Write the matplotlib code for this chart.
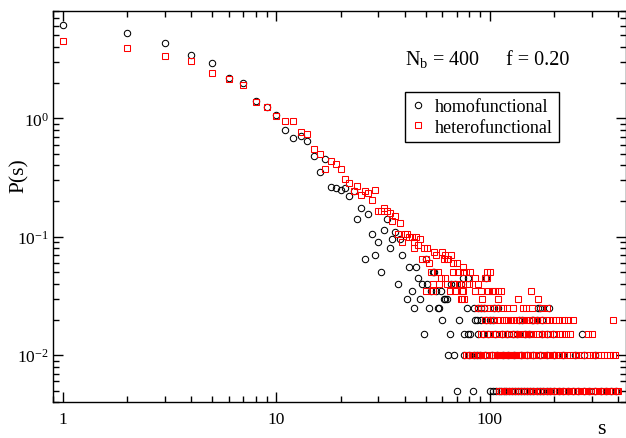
import matplotlib
matplotlib.use("Agg")
import matplotlib.pyplot as plt
from matplotlib.ticker import LogLocator, FuncFormatter, NullFormatter

plt.rcParams['font.family'] = ['Liberation Serif', 'DejaVu Serif']
plt.rcParams['mathtext.fontset'] = 'custom'
plt.rcParams['mathtext.rm'] = 'Liberation Serif'
plt.rcParams['mathtext.it'] = 'Liberation Serif:italic'
plt.rcParams['axes.unicode_minus'] = False

# small clusters: one value per size s
homo_s_head = list(range(1, 40))
homo_p_head = [6.1, 5.2, 4.3, 3.4, 2.9, 2.2, 2.0, 1.39, 1.25, 1.06,
               0.79, 0.675, 0.71, 0.645, 0.48, 0.35, 0.455, 0.265, 0.26, 0.25,
               0.26, 0.22, 0.245, 0.14, 0.175, 0.065, 0.155, 0.105, 0.07, 0.09,
               0.05, 0.115, 0.14, 0.08, 0.095, 0.11, 0.04, 0.095, 0.07]

hetero_s_head = list(range(1, 42))
hetero_p_head = [4.45, 3.95, 3.35, 3.05, 2.42, 2.15, 1.9, 1.36, 1.25, 1.05,
                 0.95, 0.95, 0.77, 0.74, 0.545, 0.50, 0.37, 0.44, 0.41, 0.37,
                 0.31, 0.285, 0.245, 0.27, 0.225, 0.245, 0.235, 0.205, 0.25, 0.165,
                 0.165, 0.175, 0.165, 0.16, 0.135, 0.15, 0.105, 0.13, 0.09, 0.105,
                 0.105]

# larger clusters: P(s) comes in steps of 0.005, sizes read per step
homo_levels = [0.065, 0.055, 0.05, 0.045, 0.04, 0.035, 0.03, 0.025, 0.02, 0.015, 0.01, 0.005]
homo_065 = [50]
homo_055 = [42, 45]
homo_050 = [54, 55]
homo_045 = [46, 75, 79, 96]
homo_040 = [48, 51, 66, 69, 73]
homo_035 = [43, 53, 56, 59]
homo_030 = [41, 47, 61, 62, 63]
homo_025 = [44, 52, 57, 58, 78, 84, 88, 91, 94, 105, 109, 169, 172, 190]
homo_020 = [60, 72, 85, 87, 91, 96, 100, 103, 137, 142, 157, 160, 166, 175]
homo_015 = [49, 65, 76, 79, 81, 88, 93, 98, 106, 114, 120, 128, 134, 146, 152,
            176, 186, 198, 270]
homo_010 = [64, 68, 76, 80, 84, 87, 90, 95, 102, 108, 115, 122, 130, 140, 150,
            160, 172, 185, 200, 220, 251, 275, 310]
homo_005 = [70, 83, 100, 103, 107, 110, 113, 116, 119, 123, 127, 131, 135, 140,
            145, 150, 155, 160, 166, 172, 178, 185, 192, 200, 210, 220, 232, 245,
            260, 275, 290, 310, 330, 350, 370, 390]
homo_rows = [homo_065, homo_055, homo_050, homo_045, homo_040, homo_035,
             homo_030, homo_025, homo_020, homo_015, homo_010, homo_005]

hetero_levels = [0.1, 0.095, 0.09, 0.085, 0.08, 0.075, 0.07, 0.065, 0.06, 0.055,
                 0.05, 0.045, 0.04, 0.035, 0.03, 0.025, 0.02, 0.015, 0.01, 0.005]
hetero_100 = [42, 43, 45]
hetero_095 = [47]
hetero_090 = [44]
hetero_085 = [46]
hetero_080 = [44, 49, 51]
hetero_075 = [55, 60]
hetero_070 = [56, 62, 66]
hetero_065 = [48, 50, 61, 63, 64]
hetero_060 = [52, 67, 70]
hetero_055 = [75]
hetero_050 = [53, 57, 67, 71, 75, 77, 81, 97, 100]
hetero_045 = [59, 62, 85, 95, 97]
hetero_040 = [54, 58, 63, 68, 72, 75, 78, 80, 88]
hetero_035 = [50, 54, 65, 69, 74, 75, 85, 91, 98, 102, 104, 106, 109, 113, 156]
hetero_030 = [73, 74, 76, 92, 109, 135, 168]
hetero_025 = [88, 91, 94, 97, 100, 103, 107, 115, 120, 128, 143, 148, 158, 175, 186]
hetero_020 = [95, 98, 101, 104, 108, 112, 116, 119, 122, 125, 129, 133, 139, 141,
              145, 150, 153, 158, 162, 167, 172, 178, 183, 190, 197, 204, 212,
              222, 232, 245, 377]
hetero_015 = [91, 94, 97, 100, 103, 106, 111, 115, 118, 121, 125, 128, 131, 134,
              138, 141, 144, 148, 152, 156, 160, 164, 170, 175, 180, 186, 192,
              200, 210, 218, 228, 237, 289, 302]
hetero_010 = [77, 79, 81, 83, 86, 88, 90, 93, 95, 97, 99, 102, 104, 106, 108, 110,
              112, 114, 116, 118, 120, 123, 125, 127, 130, 132, 135, 137, 140, 142,
              145, 148, 151, 154, 157, 160, 164, 168, 172, 176, 180, 185, 190, 195,
              200, 205, 211, 217, 223, 230, 237, 244, 252, 260, 268, 276, 285, 294,
              303, 312, 322, 332, 343, 354, 365, 376, 384]
hetero_005 = [110, 113, 116, 119, 122, 125, 128, 131, 134, 137, 140, 143, 146, 150,
              153, 157, 160, 164, 168, 172, 176, 180, 184, 188, 193, 197, 202, 207,
              212, 217, 222, 228, 233, 239, 245, 251, 257, 263, 270, 276, 283, 290,
              297, 304, 311, 319, 327, 335, 343, 351, 360, 369, 378, 387, 396, 400]
hetero_rows = [hetero_100, hetero_095, hetero_090, hetero_085, hetero_080,
               hetero_075, hetero_070, hetero_065, hetero_060, hetero_055,
               hetero_050, hetero_045, hetero_040, hetero_035, hetero_030,
               hetero_025, hetero_020, hetero_015, hetero_010, hetero_005]


def collect(s_head, p_head, levels, rows):
    s_all = list(s_head)
    p_all = list(p_head)
    for level, row in zip(levels, rows):
        s_all += row
        p_all += [level] * len(row)
    return s_all, p_all


homo_s, homo_p = collect(homo_s_head, homo_p_head, homo_levels, homo_rows)
hetero_s, hetero_p = collect(hetero_s_head, hetero_p_head, hetero_levels, hetero_rows)

fig = plt.figure(figsize=(6.26, 4.39), dpi=100)
ax = fig.add_axes([53 / 626, 35.7 / 439, 572.5 / 626, 391 / 439])

ax.plot(homo_s, homo_p, 'o', ls='none', mfc='none', mec='black', ms=4.6, mew=0.75,
        label='homofunctional')
ax.plot(hetero_s, hetero_p, 's', ls='none', mfc='none', mec='#ff0000', ms=4.0, mew=0.75,
        label='heterofunctional')

ax.set_xscale('log')
ax.set_yscale('log')
ax.set_xlim(0.9, 432)
ax.set_ylim(0.004, 8)

ax.xaxis.set_major_locator(LogLocator(base=10, numticks=10))
ax.xaxis.set_minor_locator(LogLocator(base=10, subs=range(2, 10), numticks=20))
ax.xaxis.set_major_formatter(FuncFormatter(lambda v, pos: '%g' % v))
ax.xaxis.set_minor_formatter(NullFormatter())
ax.yaxis.set_minor_locator(LogLocator(base=10, subs=range(2, 10), numticks=20))
ax.yaxis.set_minor_formatter(NullFormatter())

ax.tick_params(which='both', direction='in', top=True, right=True, width=1.0,
               labelsize=12.5)
ax.tick_params(which='major', length=7.5)
ax.tick_params(which='minor', length=4.5)
ax.tick_params(axis='x', pad=6)
ax.tick_params(axis='y', pad=3)
for sp in ax.spines.values():
    sp.set_linewidth(1.0)

fig.text(19.7 / 626, 1 - 176 / 439, 'P(s)', rotation=90, ha='center', va='center',
         fontsize=15.5)
fig.text(601.7 / 626, 1 - 434 / 439, 's', ha='center', va='baseline', fontsize=16)

ax.text(0.615, 0.865, r'N$_{\mathregular{b}}$ = 400', transform=ax.transAxes,
        fontsize=14.5, va='baseline')
ax.text(0.792, 0.865, 'f = 0.20', transform=ax.transAxes, fontsize=14.5,
        va='baseline')

leg = ax.legend(loc='upper left', bbox_to_anchor=(0.615, 0.794), borderaxespad=0,
                fontsize=13, numpoints=1, handlelength=0.7, handletextpad=0.6,
                borderpad=0.35, labelspacing=0.2, fancybox=False, framealpha=1)
leg.get_frame().set_edgecolor('black')
leg.get_frame().set_linewidth(1.0)

fig.savefig('out.png', dpi=100)
